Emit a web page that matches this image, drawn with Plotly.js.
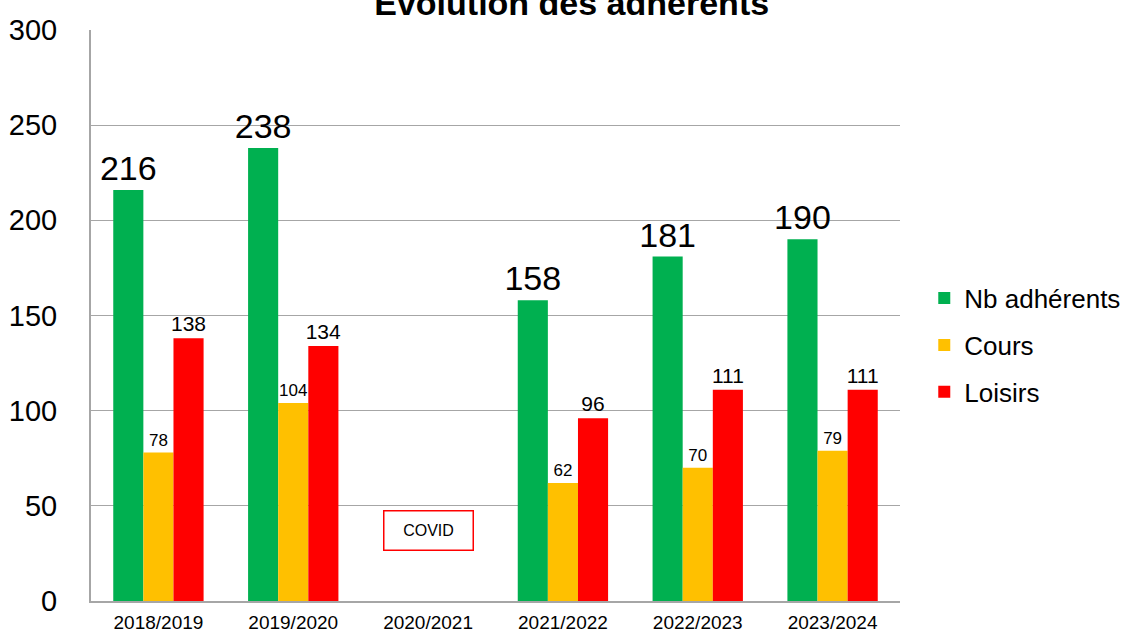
<!DOCTYPE html>
<html>
<head>
<meta charset="utf-8">
<script src="https://cdn.plot.ly/plotly-3.0.1.min.js"></script>
<style>html,body{margin:0;padding:0;background:#fff;}#chart{width:1148px;height:635px;}</style>
</head>
<body>
<div id="chart"></div>
<script>
const categories = ["2018/2019", "2019/2020", "2020/2021", "2021/2022", "2022/2023", "2023/2024"];
const nbAdherents = [216, 238, null, 158, 181, 190];
const cours = [78, 104, null, 62, 70, 79];
const loisirs = [138, 134, null, 96, 111, 111];
const yTicks = [0, 50, 100, 150, 200, 250, 300];

const font = "Liberation Sans, Arial, sans-serif";
function lbl(arr){ return arr.map(v => v === null ? "" : String(v)); }

const traces = [
  {type: "bar", name: "Nb adhérents", legendgroup: "a", x: categories, y: nbAdherents, marker: {color: "#00b050"},
   text: lbl(nbAdherents), textposition: "outside", constraintext: "none", textfont: {size: 34, color: "#000", family: font}, cliponaxis: false},
  {type: "bar", name: "Cours", legendgroup: "b", x: categories, y: cours, marker: {color: "#ffc000"},
   text: lbl(cours), textposition: "outside", constraintext: "none", textfont: {size: 17, color: "#000", family: font}, cliponaxis: false},
  {type: "bar", name: "Loisirs", legendgroup: "c", x: categories, y: loisirs, marker: {color: "#ff0000"},
   text: lbl(loisirs), textposition: "outside", constraintext: "none", textfont: {size: 21, color: "#000", family: font}, cliponaxis: false}
];

const layout = {
  width: 1148, height: 635,
  margin: {l: 91, r: 248, t: 30, b: 34},
  paper_bgcolor: "#fff", plot_bgcolor: "#fff",
  font: {family: font, color: "#000"},
  title: {text: "<b>Évolution des adhérents</b>", font: {size: 34, family: font, color: "#000"},
          x: 0.498, xanchor: "center", xref: "container", yref: "container", y: 0.976, yanchor: "bottom", pad: {t: 0, b: 0}},
  barmode: "group", bargap: 0.33, bargroupgap: 0,
  xaxis: {type: "category", tickfont: {size: 19, family: font}, showline: true, linecolor: "#a6a6a6", linewidth: 2,
          ticks: "", showgrid: false, ticklabelstandoff: 3},
  yaxis: {range: [0, 300], tickvals: yTicks, ticktext: yTicks.map(String), tickfont: {size: 29, family: font},
          showgrid: true, gridcolor: "#a6a6a6", gridwidth: 1, showline: true, linecolor: "#a6a6a6", linewidth: 2,
          zeroline: false, ticks: "", ticklabelstandoff: 26},
  legend: {x: 1.03, xanchor: "left", y: 0.448, yanchor: "middle", font: {size: 26, family: font},
           traceorder: "grouped", tracegroupgap: 10, itemwidth: 30},
  annotations: [{
    xref: "x", yref: "y", x: "2020/2021", y: 37, text: "COVID", showarrow: false, width: 70, height: 20,
    font: {size: 16, family: font, color: "#000"}, bordercolor: "#ff0000", borderwidth: 1.5, borderpad: 9, bgcolor: "#fff"
  }]
};

Plotly.newPlot("chart", traces, layout, {displayModeBar: false});
</script>
</body>
</html>
